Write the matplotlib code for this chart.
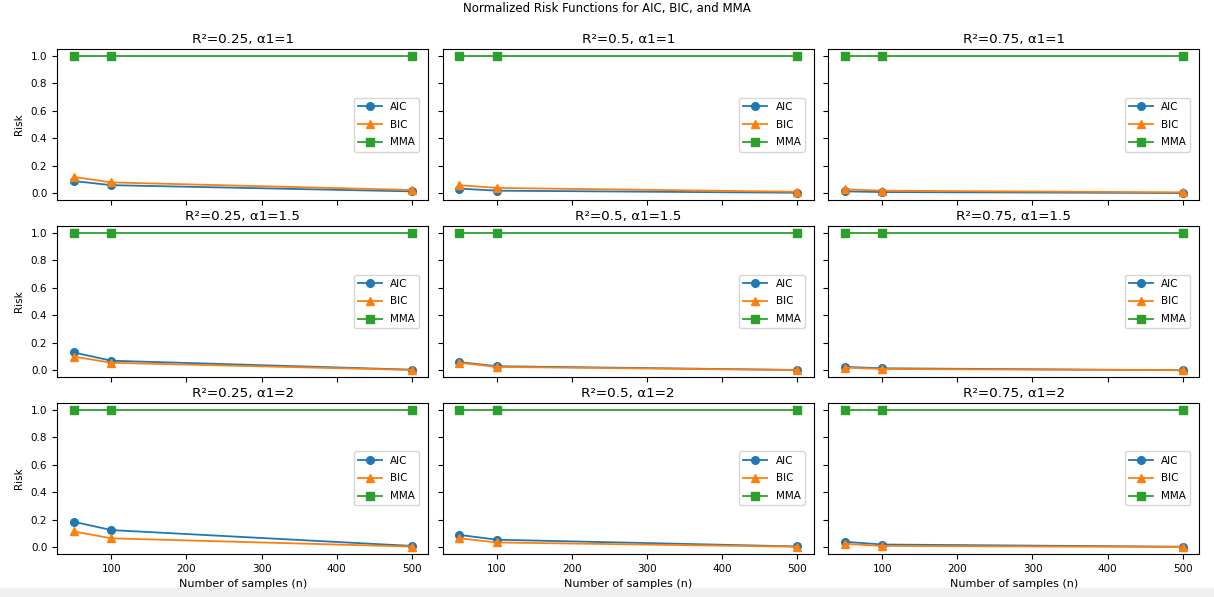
import matplotlib
matplotlib.use("Agg")
import matplotlib.pyplot as plt
from matplotlib.patches import Rectangle

n_samples = [50, 100, 500]
r2_values = ["0.25", "0.5", "0.75"]
alpha_values = ["1", "1.5", "2"]

# aic[row=alpha][col=r2], bic likewise
aic = [
    [[0.09, 0.06, 0.015], [0.035, 0.02, 0.005], [0.015, 0.01, 0.003]],
    [[0.13, 0.07, 0.005], [0.06, 0.03, 0.003], [0.025, 0.015, 0.001]],
    [[0.185, 0.125, 0.01], [0.09, 0.055, 0.006], [0.04, 0.02, 0.004]],
]
bic = [
    [[0.12, 0.08, 0.025], [0.06, 0.04, 0.012], [0.03, 0.02, 0.008]],
    [[0.10, 0.055, 0.003], [0.055, 0.025, 0.002], [0.02, 0.01, 0.001]],
    [[0.115, 0.065, 0.005], [0.065, 0.035, 0.004], [0.025, 0.01, 0.002]],
]
mma = [1.0, 1.0, 1.0]

plt.rcParams['font.size'] = 8
fig, axes = plt.subplots(3, 3, figsize=(12.14, 5.97), dpi=100, sharex=True, sharey=True)
fig.subplots_adjust(left=0.047, right=0.988, top=0.918, bottom=0.072, wspace=0.038, hspace=0.17)

for i, a in enumerate(alpha_values):
    for j, r in enumerate(r2_values):
        ax = axes[i][j]
        ax.plot(n_samples, aic[i][j], marker='o', markersize=5.5, lw=1.3, label='AIC')
        ax.plot(n_samples, bic[i][j], marker='^', markersize=5.5, lw=1.3, label='BIC')
        ax.plot(n_samples, mma, marker='s', markersize=5.5, lw=1.3, label='MMA')
        ax.set_title(f"R\u00b2={r}, \u03b11={a}", fontsize=9.7, pad=4)
        ax.legend(loc='center right', fontsize=7.5, borderaxespad=0.9, labelspacing=0.75, handlelength=2.3)
        if j == 0:
            ax.set_ylabel('Risk', fontsize=7.5, labelpad=5)
        if i == 2:
            ax.set_xlabel('Number of samples (n)', fontsize=8)
        ax.tick_params(labelsize=7.5)

fig.suptitle('Normalized Risk Functions for AIC, BIC, and MMA', fontsize=8.5, y=0.997)
fig.patches.append(Rectangle((0, 0), 1, 9/597, transform=fig.transFigure, color='#f0f0f0', zorder=-1))
fig.savefig('out.png', dpi=100)
